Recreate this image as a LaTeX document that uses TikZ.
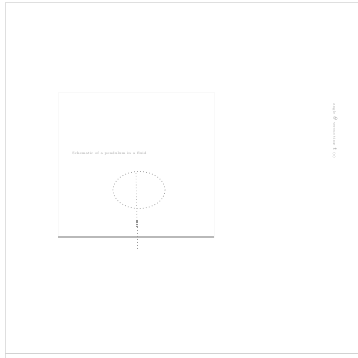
\documentclass[tikz,border=0pt]{standalone}
\usepackage{tikz}
\begin{document}
\begin{tikzpicture}[x=0.03cm, y=-0.03cm, >=stealth,
    tinytext/.style={text=gray!80, inner sep=0pt, font=\fontsize{3}{3.5}\selectfont}]
    % 画布与外框
    \useasboundingbox (0,0) rectangle (358,358);
    \draw[gray!25, line width=0.8pt] (5,358) -- (5,2) -- (358,2);
    \draw[gray!35, line width=0.8pt] (5,353) -- (358,353);

    % 容器 (淡色矩形与底座)
    \draw[gray!5, line width=0.3pt] (58,92) rectangle (214,237);
    \draw[gray!55, line width=1.4pt] (58,237) -- (214,237);

    % 摆线与椭圆轨迹
    \coordinate (top) at (136,173);
    \coordinate (bob) at (137,227);
    \coordinate (bottom) at (137,249);
    \draw[gray!85, dotted, line width=0.6pt] (139,190) ellipse (26 and 18.5);
    \draw[gray!80, dotted, line width=0.5pt] (top) -- (bob);
    \draw[gray!85, densely dotted, line width=0.9pt] (bob) -- ++(0,-7);
    \draw[gray!80, dotted, line width=0.5pt] (bob) -- (bottom);

    % 标注
    \node[tinytext, anchor=west] (title) at (72,154) {Schematic of a pendulum in a fluid};
    \node[tinytext, rotate=-90] (side) at (335,131) {angle $\theta$ versus time $t$ (s)};
\end{tikzpicture}
\end{document}
